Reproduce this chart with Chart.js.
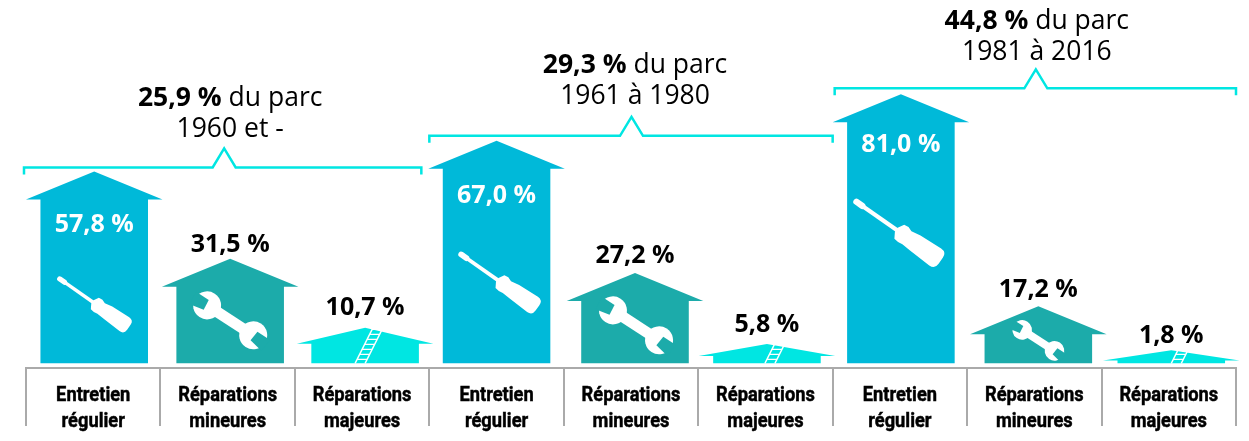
<!DOCTYPE html>
<html>
<head>
<meta charset="utf-8">
<style>
  html, body { margin: 0; padding: 0; background: #fff; overflow: hidden; }
  canvas { display: block; }
</style>
<script src="https://cdn.jsdelivr.net/npm/chart.js@4"></script>
</head>
<body>
<canvas id="chart" width="1249" height="441"></canvas>
<script>
const categories = [
  ["Entretien", "régulier"], ["Réparations", "mineures"], ["Réparations", "majeures"],
  ["Entretien", "régulier"], ["Réparations", "mineures"], ["Réparations", "majeures"],
  ["Entretien", "régulier"], ["Réparations", "mineures"], ["Réparations", "majeures"]
];
const values = [57.8, 31.5, 10.7, 67.0, 27.2, 5.8, 81.0, 17.2, 1.8];
const groupShares = ["25,9 %", "29,3 %", "44,8 %"];
const groupRanges = ["1960 et -", "1961 à 1980", "1981 à 2016"];

const BLUE = "#00b9d9";
const TEAL = "#1cabaa";
const CYAN = "#00e6e2";
const colors = [BLUE, TEAL, CYAN];
const FONT = '"Open Sans", sans-serif';

// small shifts of the houses in their slot, as in the original
const slotShift = [1, 2.5, 3, 0, 4, 1.5, 1, 4, 2.5];

function label(v) {
  return v.toFixed(1).replace(".", ",") + " %";
}

function roofHeight(h) {
  return h >= 50 ? 28 : 7 + h * 0.25;
}

function screwdriver(ctx, x, y, len) {
  const s = len / 87;
  ctx.save();
  ctx.translate(x, y);
  ctx.rotate(35 * Math.PI / 180);
  ctx.scale(s, s);
  ctx.fillStyle = "#fff";
  ctx.beginPath();
  ctx.roundRect(-43.5, -2.6, 11, 5.2, 2.6);
  ctx.fill();
  ctx.fillRect(-36, -1.7, 38, 3.4);
  ctx.beginPath();
  ctx.moveTo(-1, -2);
  ctx.lineTo(2, -7);
  ctx.lineTo(6, -7.5);
  ctx.lineTo(10, -6);
  ctx.lineTo(18, -7.5);
  ctx.lineTo(38, -8.5);
  ctx.quadraticCurveTo(43.5, -8.5, 43.5, -3);
  ctx.lineTo(43.5, 3);
  ctx.quadraticCurveTo(43.5, 8.5, 38, 8.5);
  ctx.lineTo(18, 7.5);
  ctx.lineTo(10, 7);
  ctx.lineTo(6, 7.5);
  ctx.lineTo(2, 7);
  ctx.lineTo(-1, 2);
  ctx.closePath();
  ctx.fill();
  ctx.restore();
}

function wrench(ctx, x, y, s, bg) {
  ctx.save();
  ctx.translate(x, y);
  ctx.rotate(33 * Math.PI / 180);
  ctx.scale(s, s);
  ctx.fillStyle = "#fff";
  ctx.fillRect(-26, -5.5, 52, 11);
  [-1, 1].forEach(side => {
    ctx.save();
    ctx.translate(side * 27.5, 0);
    ctx.fillStyle = "#fff";
    ctx.beginPath();
    ctx.arc(0, 0, 14, 0, Math.PI * 2);
    ctx.fill();
    ctx.rotate(side * 0.1);
    ctx.fillStyle = bg;
    ctx.beginPath();
    ctx.moveTo(side * 1, -5.5);
    ctx.lineTo(side * 16, -7);
    ctx.lineTo(side * 16, 7);
    ctx.lineTo(side * 1, 5.5);
    ctx.closePath();
    ctx.fill();
    ctx.restore();
  });
  ctx.restore();
}

function ladder(ctx, x, base, apex) {
  ctx.save();
  ctx.strokeStyle = "#fff";
  ctx.lineWidth = 1.4;
  const slope = 0.5;
  const h = base - apex;
  ctx.beginPath();
  [0, 10].forEach(off => {
    ctx.moveTo(x + off, base);
    ctx.lineTo(x + off + h * slope, base - h);
  });
  for (let d = 4; d < h + 1; d += 5) {
    ctx.moveTo(x + d * slope, base - d);
    ctx.lineTo(x + 10 + d * slope, base - d);
  }
  ctx.stroke();
  ctx.restore();
}

// icon layout per slot, relative to the house centre and the baseline
const iconLayout = {
  0: { dx: -1, up: 61, size: 87 },
  1: { dx: 0, up: 43, size: 1 },
  2: { dx: -10 },
  3: { dx: 1.6, up: 83, size: 96 },
  4: { dx: 1, up: 38, size: 1 },
  5: { dx: -2 },
  6: { dx: -3.6, up: 133, size: 106 },
  7: { dx: 0, up: 23, size: 0.7 },
  8: { dx: 0 }
};

const labelGap = { 1: 14, 2: 20, 4: 17, 5: 19, 7: 16, 8: 14 };
const labelDrop = { 0: 53, 3: 55, 6: 51 };

const housesPlugin = {
  id: "houses",
  afterDatasetsDraw(chart) {
    const ctx = chart.ctx;
    const bars = chart.getDatasetMeta(0).data;
    ctx.save();
    bars.forEach((bar, i) => {
      const cx = bar.x + slotShift[i];
      const base = bar.base;
      const apex = bar.y;
      const h = base - apex;
      const eave = apex + roofHeight(h);
      const bw = bar.width;
      const color = colors[i % 3];
      ctx.fillStyle = color;
      ctx.beginPath();
      ctx.moveTo(cx, apex);
      ctx.lineTo(cx + bw / 2 + 14.5, eave);
      ctx.lineTo(cx + bw / 2, eave);
      ctx.lineTo(cx + bw / 2, base);
      ctx.lineTo(cx - bw / 2, base);
      ctx.lineTo(cx - bw / 2, eave);
      ctx.lineTo(cx - bw / 2 - 14.5, eave);
      ctx.closePath();
      ctx.fill();

      const ic = iconLayout[i];
      if (i % 3 === 0) screwdriver(ctx, cx + ic.dx, base - ic.up, ic.size);
      if (i % 3 === 1) wrench(ctx, cx + ic.dx, base - ic.up, ic.size, color);
      if (i % 3 === 2) ladder(ctx, cx + ic.dx, base, apex);

      ctx.font = "bold 25px " + FONT;
      ctx.textAlign = "center";
      ctx.textBaseline = "middle";
      if (i % 3 === 0) {
        ctx.fillStyle = "#fff";
        ctx.fillText(label(values[i]), cx, apex + labelDrop[i]);
      } else {
        ctx.fillStyle = "#000";
        ctx.fillText(label(values[i]), cx, apex - labelGap[i]);
      }
    });
    ctx.restore();
  }
};

const leftAdjust = [-2, 0, 2];
const rightAdjust = [-8, 0, 0];
const notchAdjust = [-3.5, 0.5, 1.5];
const headerAdjust = [6, 3.5, 1];
const headerRaise = [2, 3, 0];

const bracketsPlugin = {
  id: "brackets",
  afterDraw(chart) {
    const ctx = chart.ctx;
    const bars = chart.getDatasetMeta(0).data;
    const slot = bars[1].x - bars[0].x;
    ctx.save();
    groupShares.forEach((share, g) => {
      const first = bars[g * 3];
      const left = first.x - slot / 2 + leftAdjust[g];
      const right = bars[g * 3 + 2].x + slot / 2 + rightAdjust[g];
      const y = first.y - 4 - g;
      const mid = first.x + slot + notchAdjust[g];
      ctx.strokeStyle = CYAN;
      ctx.lineWidth = 2.5;
      ctx.lineJoin = "miter";
      ctx.beginPath();
      ctx.moveTo(left, y + 7);
      ctx.lineTo(left, y);
      ctx.lineTo(mid - 11.5, y);
      ctx.lineTo(mid, y - 19);
      ctx.lineTo(mid + 11.5, y);
      ctx.lineTo(right, y);
      ctx.lineTo(right, y + 7);
      ctx.stroke();

      const bold = "bold 26.5px " + FONT;
      const thin = "26.5px " + FONT;
      const rest = " du parc";
      const textX = mid + headerAdjust[g];
      const textY = y - 67 - headerRaise[g];
      ctx.textBaseline = "middle";
      ctx.textAlign = "left";
      ctx.font = bold;
      const w1 = ctx.measureText(share).width;
      ctx.font = thin;
      const w2 = ctx.measureText(rest).width;
      const tx = textX - (w1 + w2) / 2;
      ctx.fillStyle = "#000";
      ctx.font = bold;
      ctx.fillText(share, tx, textY);
      ctx.font = thin;
      ctx.fillText(rest, tx + w1, textY);
      ctx.textAlign = "center";
      ctx.fillText(groupRanges[g], textX, textY + 31);
    });
    ctx.restore();
  }
};

// the labels are a heavy condensed face in the original, so squeeze them
const categoryPlugin = {
  id: "categoryLabels",
  afterDraw(chart) {
    const ctx = chart.ctx;
    const xs = chart.scales.x;
    ctx.save();
    ctx.fillStyle = "#000";
    ctx.strokeStyle = "#000";
    ctx.lineWidth = 0.5;
    ctx.textAlign = "center";
    ctx.textBaseline = "middle";
    ctx.font = 'bold 21px Roboto, sans-serif';
    categories.forEach((lines, i) => {
      const x = xs.getPixelForValue(i);
      lines.forEach((line, n) => {
        ctx.save();
        ctx.translate(x, 395.5 + n * 26);
        ctx.scale(0.87, 1);
        ctx.fillText(line, 0, 0);
        ctx.strokeText(line, 0, 0);
        ctx.restore();
      });
    });
    ctx.restore();
  }
};

new Chart(document.getElementById("chart"), {
  type: "bar",
  data: {
    labels: categories,
    datasets: [{
      data: values,
      backgroundColor: "rgba(0,0,0,0)",
      barPercentage: 0.8,
      categoryPercentage: 1,
      minBarLength: 13
    }]
  },
  options: {
    responsive: false,
    animation: false,
    layout: { padding: { left: 26, right: 13, top: 0, bottom: 0 } },
    plugins: { legend: { display: false }, tooltip: { enabled: false } },
    scales: {
      x: {
        afterFit(scale) { scale.height = 73; },
        border: { display: true, color: "#aaaaaa", width: 2 },
        grid: {
          offset: true,
          drawOnChartArea: false,
          color: "#aaaaaa",
          lineWidth: 2,
          tickLength: 58
        },
        ticks: { display: false }
      },
      y: { display: false, min: -1.4, max: 109.4 }
    }
  },
  plugins: [housesPlugin, bracketsPlugin, categoryPlugin]
});
</script>
</body>
</html>
